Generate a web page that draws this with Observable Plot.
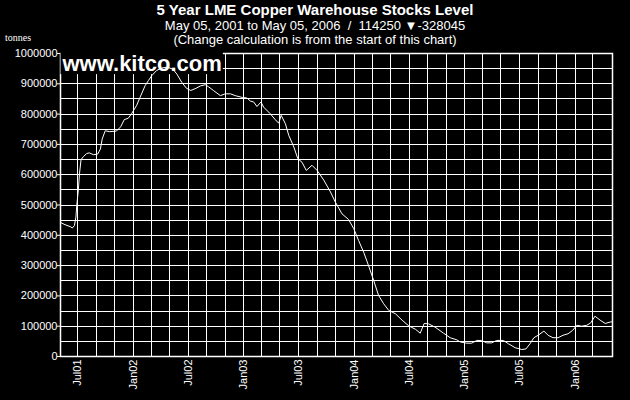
<!DOCTYPE html>
<html>
<head>
<meta charset="utf-8">
<script src="https://cdn.jsdelivr.net/npm/d3@7"></script>
<script src="https://cdn.jsdelivr.net/npm/@observablehq/plot@0.6"></script>
<style>
  html, body { margin: 0; padding: 0; background: #000; }
  #wrap { position: relative; width: 630px; height: 400px; background: #000; overflow: hidden;
          font-family: Arial, "Liberation Sans", sans-serif; color: #fff; }
  #wrap svg { position: absolute; left: 0; top: 0; }
  .t { position: absolute; left: 0; width: 630px; text-align: center; white-space: pre; z-index: 2; overflow: hidden; }
  #title { top: 2px; height: 16px; font-size: 15px; line-height: 16px; font-weight: bold; }
  #sub { top: 19px; height: 14px; font-size: 13px; line-height: 14px; }
  #note { top: 33px; height: 14px; font-size: 13px; line-height: 14px; }
  #unit { position: absolute; left: 5px; top: 32px; font-family: "Liberation Serif", "DejaVu Serif", serif; font-size: 10px; line-height: 11px; z-index: 2; }
</style>
</head>
<body>
<div id="wrap">
  <div id="title" class="t"></div>
  <div id="sub" class="t"></div>
  <div id="note" class="t"></div>
  <div id="unit"></div>
</div>
<script>
// ---- text ----
const titleText = "5 Year LME Copper Warehouse Stocks Level";
const startLabel = "May 05, 2001";
const endLabel = "May 05, 2006";
const lastValue = 114250;
const changeValue = -328045;
const noteText = "(Change calculation is from the start of this chart)";
const unitText = "tonnes";
const watermark = "www.kitco.com";

// ---- data (LME copper warehouse stocks, tonnes) ----
const dates = [
  "2001-05-05","2001-05-20","2001-06-08","2001-06-13","2001-06-20","2001-06-25","2001-06-28","2001-07-03",
  "2001-07-07","2001-07-12","2001-07-20","2001-07-31","2001-08-08","2001-08-22","2001-09-05","2001-09-14",
  "2001-09-20","2001-09-30","2001-10-15","2001-11-06","2001-11-20","2001-12-02","2001-12-15","2001-12-26",
  "2002-01-12","2002-01-23","2002-02-09","2002-02-20","2002-03-03","2002-03-19","2002-04-05","2002-04-24",
  "2002-05-12","2002-05-25","2002-06-10","2002-06-26","2002-07-10","2002-07-27","2002-08-11","2002-08-27",
  "2002-09-07","2002-09-24","2002-10-16","2002-11-01","2002-11-18","2002-12-04","2002-12-27","2003-01-12",
  "2003-01-23","2003-02-03","2003-02-14","2003-02-27","2003-03-08","2003-03-30","2003-04-16","2003-04-27",
  "2003-05-05","2003-05-19","2003-05-30","2003-06-16","2003-06-29","2003-07-13","2003-07-27","2003-08-15",
  "2003-09-01","2003-09-23","2003-10-15","2003-10-31","2003-11-22","2003-12-14","2003-12-31","2004-01-16",
  "2004-02-02","2004-02-18","2004-03-06","2004-03-22","2004-04-08","2004-04-25","2004-05-17","2004-06-08",
  "2004-06-30","2004-07-22","2004-08-07","2004-08-20","2004-09-03","2004-09-25","2004-10-23","2004-11-14",
  "2004-12-06","2004-12-17","2005-01-08","2005-01-24","2005-02-10","2005-02-26","2005-03-15","2005-03-31",
  "2005-04-17","2005-05-09","2005-05-26","2005-06-17","2005-07-09","2005-07-23","2005-08-05","2005-08-18",
  "2005-09-01","2005-09-20","2005-10-04","2005-10-20","2005-11-06","2005-11-22","2005-12-09","2005-12-24",
  "2006-01-07","2006-01-23","2006-02-09","2006-02-22","2006-03-08","2006-03-25","2006-04-11","2006-04-28",
  "2006-05-05"
];
const stocks = [
  442295,435000,428000,424000,432000,460000,500000,550000,
  605000,650000,660000,670000,672000,666000,668000,685000,
  718000,745000,742000,744000,758000,782000,786000,801000,
  829000,855000,894000,911000,927000,944000,952000,955000,
  948000,932000,905000,885000,878000,885000,893000,897000,
  890000,877000,861000,867000,867000,861000,855000,853000,
  843000,840000,825000,840000,823000,801000,781000,770000,
  796000,768000,730000,691000,653000,641000,614000,631000,
  614000,582000,543000,510000,471000,452000,422000,383000,
  344000,300000,251000,202000,174000,152000,141000,120000,
  101000,90000,77000,109000,108000,97000,77000,62000,
  55000,48000,44000,44000,53000,53000,45000,45000,
  53000,53000,42000,29000,23000,25000,42000,62000,
  70000,84000,70000,62000,62000,70000,75000,86000,
  103000,100000,103000,111000,133000,120000,109000,114000,
  114250
];
const yTicks = d3.range(0, 1000001, 100000);
const yGrid = d3.range(0, 1000001, 50000);
const xStart = new Date("2001-05-05");
const xEnd = new Date("2006-05-05");

const data = dates.map((d, i) => ({date: new Date(d), value: stocks[i]}));
const gridMonths = d3.utcMonth.every(2).range(xStart, d3.utcMonth.floor(xEnd));
const labelMonths = d3.utcMonth.every(6).range(xStart, xEnd);

document.getElementById("title").textContent = titleText;
document.getElementById("sub").innerHTML =
  `${startLabel} to ${endLabel}  /  ${lastValue} <span style="font-size:13px;line-height:14px">&#9660;</span>${changeValue}`;
document.getElementById("note").textContent = noteText;
document.getElementById("unit").textContent = unitText;

const chart = Plot.plot({
  width: 630,
  height: 400,
  marginTop: 53,
  marginLeft: 60,
  marginRight: 18,
  marginBottom: 44,
  style: {background: "#000", color: "#fff", fontFamily: "Arial, 'Liberation Sans', sans-serif", fontSize: "11px"},
  x: {type: "utc", domain: [xStart, xEnd]},
  y: {domain: [0, 1000000]},
  marks: [
    Plot.gridY(yGrid, {stroke: "#fff", strokeOpacity: 1, strokeWidth: 1, shapeRendering: "crispEdges"}),
    Plot.gridX(gridMonths, {stroke: "#fff", strokeOpacity: 1, strokeWidth: 1, shapeRendering: "crispEdges"}),
    Plot.axisY({ticks: yTicks, tickFormat: d => String(d), tickSize: 3, tickPadding: 0, label: null, fontSize: 11, fill: "#fff", stroke: "#fff"}),
    Plot.axisX({ticks: labelMonths, tickFormat: d3.utcFormat("%b%y"), tickRotate: -90, tickSize: 0, tickPadding: 3, label: null, fontSize: 11, fill: "#fff"}),
    Plot.frame({stroke: "#fff", strokeWidth: 1.5}),
    Plot.text([watermark], {text: d => d, frameAnchor: "top-left", dx: 2, dy: 2, fontSize: 22, fontWeight: "bold", fill: "#fff", fontFamily: "Arial, 'Liberation Sans', sans-serif"}),
    Plot.line(data, {x: "date", y: "value", stroke: "#fff", strokeWidth: 1})
  ]
});
document.getElementById("wrap").appendChild(chart);

// black box behind the watermark text (hides grid lines there, line stays on top)
const wm = chart.querySelector('g[aria-label="text"] text');
if (wm) {
  const bb = wm.getBBox();
  const r = document.createElementNS("http://www.w3.org/2000/svg", "rect");
  r.setAttribute("x", bb.x - 1);
  r.setAttribute("y", bb.y);
  r.setAttribute("width", bb.width + 2);
  r.setAttribute("height", bb.height - 2);
  r.setAttribute("fill", "#000");
  const tr = wm.getAttribute("transform");
  if (tr) r.setAttribute("transform", tr);
  wm.parentNode.insertBefore(r, wm);
}
</script>
</body>
</html>
